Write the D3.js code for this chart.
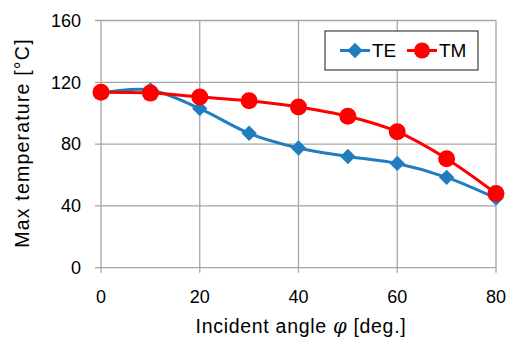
<!DOCTYPE html>
<html>
<head>
<meta charset="utf-8">
<script src="https://cdn.jsdelivr.net/npm/d3@7/dist/d3.min.js"></script>
<style>
  body { margin: 0; background: #fff; }
  svg text { font-family: "Liberation Sans", Arial, sans-serif; fill: #000; }
</style>
</head>
<body>
<svg id="chart" width="511" height="338"></svg>
<script>
// Incident angle (deg) and max temperature (°C)
const angles = [0, 10, 20, 30, 40, 50, 60, 70, 80]
const teTemps = [113, 115, 103, 87, 77.5, 72, 67.5, 58.5, 45]
const tmTemps = [113.5, 113, 110.5, 108, 104, 98, 88, 70.5, 48]
const xTicks = [0, 20, 40, 60, 80]
const yTicks = [0, 40, 80, 120, 160]

const svg = d3.select('#chart')
const margin = { top: 20.5, left: 101 }

const x = d3.scaleLinear().domain([0, 80]).range([margin.left, 496])
const y = d3.scaleLinear().domain([0, 160]).range([267.7, margin.top])

const gridColor = '#a6a6a6'

// Gridlines (with the little tick stubs outside the plot)
svg.append('g').selectAll('line')
  .data(yTicks)
  .join('line')
  .attr('x1', margin.left - 6).attr('x2', x(80))
  .attr('y1', d => y(d)).attr('y2', d => y(d))
  .attr('stroke', gridColor).attr('stroke-width', 1.3)

svg.append('g').selectAll('line')
  .data(xTicks)
  .join('line')
  .attr('x1', d => x(d)).attr('x2', d => x(d))
  .attr('y1', y(160)).attr('y2', y(0) + 5)
  .attr('stroke', gridColor).attr('stroke-width', 1.3)

// Tick labels
svg.append('g').selectAll('text')
  .data(yTicks)
  .join('text')
  .attr('x', 81).attr('y', d => y(d))
  .attr('dy', '0.35em')
  .attr('text-anchor', 'end')
  .style('font-size', '18px')
  .text(d => d)

svg.append('g').selectAll('text')
  .data(xTicks)
  .join('text')
  .attr('x', d => x(d)).attr('y', 303)
  .attr('text-anchor', 'middle')
  .style('font-size', '18px')
  .text(d => d)

// Axis titles
svg.append('text')
  .attr('transform', `translate(29, 143) rotate(-90)`)
  .attr('text-anchor', 'middle')
  .style('font-size', '19.5px')
  .style('letter-spacing', '1.2px')
  .text('Max temperature [°C]')

const xt = svg.append('text')
  .attr('x', 301).attr('y', 333)
  .attr('text-anchor', 'middle')
  .style('font-size', '19.5px')
  .style('letter-spacing', '0.7px')
xt.append('tspan').text('Incident angle ')
xt.append('tspan').style('font-family', '"DejaVu Serif", serif').style('font-style', 'italic').text('φ')
xt.append('tspan').text(' [deg.]')

// Series (Excel-style smoothed lines)
const line = d3.line()
  .x((d, i) => x(angles[i]))
  .y(d => y(d))
  .curve(d3.curveCatmullRom.alpha(0))

const teColor = '#1f7dc0'
const tmColor = '#ff0000'
const diamond = d3.symbol().type(d3.symbolDiamond2).size(150)

svg.append('path')
  .datum(teTemps)
  .attr('d', line)
  .attr('fill', 'none').attr('stroke', teColor).attr('stroke-width', 3)

svg.append('g').selectAll('path')
  .data(teTemps)
  .join('path')
  .attr('d', diamond)
  .attr('transform', (d, i) => `translate(${x(angles[i])},${y(d)})`)
  .attr('fill', teColor)

svg.append('path')
  .datum(tmTemps)
  .attr('d', line)
  .attr('fill', 'none').attr('stroke', tmColor).attr('stroke-width', 3)

svg.append('g').selectAll('circle')
  .data(tmTemps)
  .join('circle')
  .attr('cx', (d, i) => x(angles[i]))
  .attr('cy', d => y(d))
  .attr('r', 8.5)
  .attr('fill', tmColor)

// Legend
const lg = svg.append('g')
lg.append('rect')
  .attr('x', 325).attr('y', 31).attr('width', 153).attr('height', 39)
  .attr('fill', '#fff').attr('stroke', '#404040').attr('stroke-width', 1.2)

const legendItems = [
  { name: 'TE', color: teColor, x0: 340, marker: 'diamond' },
  { name: 'TM', color: tmColor, x0: 407, marker: 'circle' }
]
legendItems.forEach(it => {
  const cy = 50.5
  lg.append('line')
    .attr('x1', it.x0).attr('x2', it.x0 + 30)
    .attr('y1', cy).attr('y2', cy)
    .attr('stroke', it.color).attr('stroke-width', 3)
  if (it.marker === 'diamond') {
    lg.append('path').attr('d', diamond)
      .attr('transform', `translate(${it.x0 + 15},${cy})`)
      .attr('fill', it.color)
  } else {
    lg.append('circle').attr('cx', it.x0 + 15).attr('cy', cy).attr('r', 8)
      .attr('fill', it.color)
  }
  lg.append('text')
    .attr('x', it.x0 + 32).attr('y', cy).attr('dy', '0.36em')
    .style('font-size', '19px')
    .text(it.name)
})
</script>
</body>
</html>
